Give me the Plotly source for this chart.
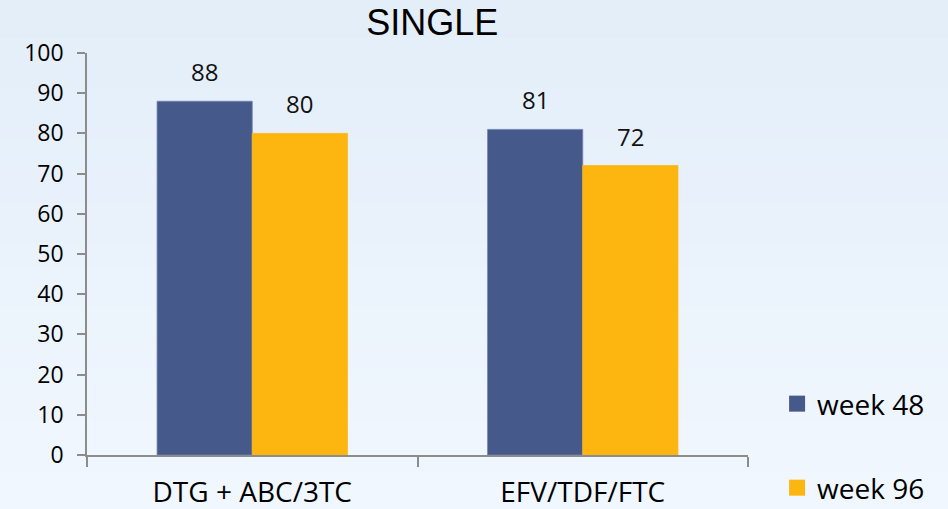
import plotly.graph_objects as go

categories = ["DTG + ABC/3TC", "EFV/TDF/FTC"]
series_names = ["week 48", "week 96"]
week48 = [88, 81]
week96 = [80, 72]
y_ticks = [0, 10, 20, 30, 40, 50, 60, 70, 80, 90, 100]

colors = ["#46598B", "#FDB60F"]
edge_colors = ["#7283B6", "#FDB60F"]
FONT = "Open Sans"

fig = go.Figure()
for name, vals, col, ec in zip(series_names, [week48, week96], colors, edge_colors):
    fig.add_trace(go.Bar(
        x=categories, y=vals, name=name, showlegend=False,
        marker=dict(color=col, line=dict(width=0.8, color=ec)),
        hoverinfo="x+y",
    ))

# legend entries (larger squares than bar legend glyphs)
legend_ids = ["legend", "legend2"]
for name, col, lid in zip(series_names, colors, legend_ids):
    fig.add_trace(go.Scatter(
        x=[None], y=[None], mode="markers", name=name, legend=lid,
        marker=dict(symbol="square", size=17, color=col),
        showlegend=True,
    ))

# value labels
offsets = [-47.5, 47.5]
for vals, dx in zip([week48, week96], offsets):
    for c, v in zip(categories, vals):
        fig.add_annotation(
            x=c, y=v, text=str(v), showarrow=False, xshift=dx,
            yanchor="bottom", yshift=11,
            font=dict(family=FONT, size=24, color="#111111"),
        )

# background gradient bands
n_bands = 40
top = (227, 238, 249)
bot = (241, 247, 254)
W, H = 948, 509
L, R, T, B = 87, 200, 53, 54
pw, ph = W - L - R, H - T - B
for i in range(n_bands):
    t = i / (n_bands - 1)
    c = tuple(round(top[k] + (bot[k] - top[k]) * t) for k in range(3))
    fig.add_shape(
        type="rect", xref="paper", yref="paper", layer="below",
        x0=-L / pw, x1=(W - L) / pw,
        y0=(H - B - H * (i + 1) / n_bands) / ph,
        y1=(H - B - H * i / n_bands) / ph,
        fillcolor="rgb(%d,%d,%d)" % c, line=dict(width=0),
    )

fig.update_layout(
    width=W, height=H,
    margin=dict(l=L, r=R, t=T, b=B, pad=0, autoexpand=False),
    paper_bgcolor="#EAF2FB", plot_bgcolor="rgba(0,0,0,0)",
    barmode="group", bargap=0.424, bargroupgap=0,
    title=dict(text="SINGLE", x=0.456, xanchor="center", y=0.98, yanchor="top",
               font=dict(family="Liberation Sans", size=36, color="#000000")),
    font=dict(family=FONT, color="#000000"),
    legend=dict(x=1.044, xanchor="left", y=0.127, yanchor="middle",
                bgcolor="rgba(0,0,0,0)", font=dict(family=FONT, size=28, color="#000000")),
    legend2=dict(x=1.044, xanchor="left", y=-0.082, yanchor="middle",
                 bgcolor="rgba(0,0,0,0)", font=dict(family=FONT, size=28, color="#000000")),
    showlegend=True,
)
fig.update_yaxes(
    range=[0, 100], tickvals=y_ticks, showgrid=False, zeroline=False,
    showline=True, linecolor="#8C8C8C", linewidth=1.5, automargin=False,
    ticks="outside", ticklen=8, tickcolor="#8C8C8C", tickwidth=1.5,
    ticklabelstandoff=9,
    tickfont=dict(family=FONT, size=23, color="#000000"),
)
fig.update_xaxes(
    showgrid=False, showline=True, linecolor="#8C8C8C", linewidth=1.5,
    ticks="outside", ticklen=10, tickcolor="#8C8C8C", tickwidth=1.5,
    tickson="boundaries", ticklabelstandoff=12, automargin=False,
    tickfont=dict(family=FONT, size=28, color="#000000"),
)

fig.write_html("out.html")
